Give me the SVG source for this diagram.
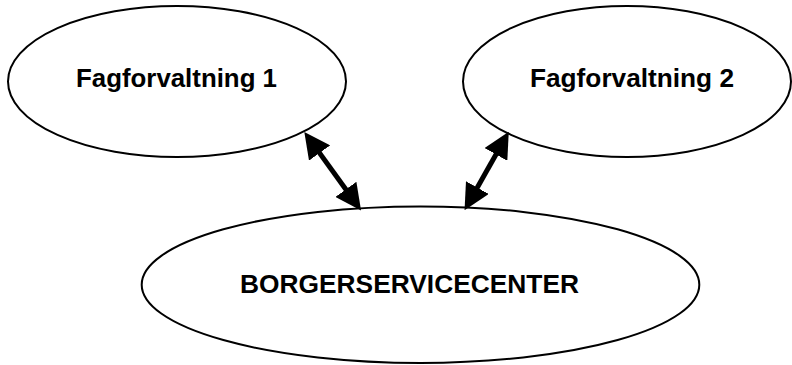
<svg xmlns="http://www.w3.org/2000/svg" width="792" height="365" viewBox="0 0 792 365">
<style>
.node ellipse{fill:#fff;stroke:#000;stroke-width:2}
.node text{font-family:"Liberation Sans",Arial,sans-serif;font-weight:bold;font-size:26px;fill:#000}
.conn line{stroke:#000;stroke-width:5}
</style>
<defs>
<marker id="ah" markerUnits="userSpaceOnUse" markerWidth="26" markerHeight="26" refX="10" refY="13" orient="auto-start-reverse" viewBox="0 0 26 26">
<path d="M0,0 L26,13 L0,26 z" fill="#000"/>
</marker>
</defs>
<rect width="792" height="365" fill="#fff"/>
<g id="fagforvaltning1" class="node">
<ellipse cx="177" cy="81.5" rx="169" ry="75.5"/>
<text x="76" y="86.5" textLength="201" lengthAdjust="spacingAndGlyphs">Fagforvaltning 1</text>
</g>
<g id="fagforvaltning2" class="node">
<ellipse cx="627" cy="81.5" rx="164" ry="75.5"/>
<text x="530" y="86.5" textLength="204" lengthAdjust="spacingAndGlyphs">Fagforvaltning 2</text>
</g>
<g id="borgerservicecenter" class="node">
<ellipse cx="420.5" cy="284.7" rx="278.8" ry="78.3"/>
<text x="240" y="293" textLength="339" lengthAdjust="spacingAndGlyphs">BORGERSERVICECENTER</text>
</g>
<g id="connectors" class="conn">
<line x1="313.7" y1="144.9" x2="351.7" y2="197.5" marker-start="url(#ah)" marker-end="url(#ah)"/>
<line x1="500.9" y1="145.75" x2="472.4" y2="196.3" marker-start="url(#ah)" marker-end="url(#ah)"/>
</g>
</svg>
